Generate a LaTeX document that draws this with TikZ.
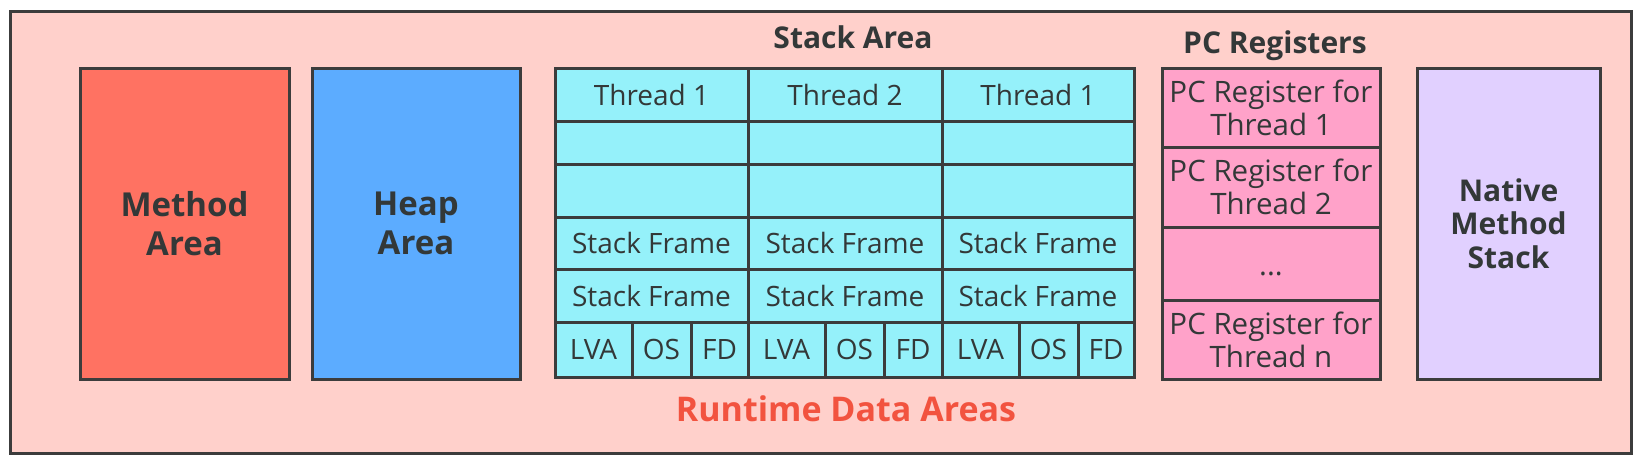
\documentclass[tikz,border=0pt]{standalone}
\usepackage{fontspec}
\setmainfont{Open Sans}
\definecolor{bgpink}{HTML}{FFD0CB}
\definecolor{edge}{HTML}{3C3C3C}
\definecolor{methodc}{HTML}{FF7262}
\definecolor{heapc}{HTML}{5CACFF}
\definecolor{stackc}{HTML}{95F1FA}
\definecolor{pcc}{HTML}{FFA2C9}
\definecolor{nativec}{HTML}{E1D0FF}
\definecolor{rtc}{HTML}{F2533F}
\definecolor{txt}{HTML}{333838}
\newcommand\cellnode[7]{\node[#2, minimum width={(#5)-(#3)}, minimum height={(#6)-(#4)}, anchor=center] (#1) at ({((#3)+(#5))/2},{((#4)+(#6))/2}) {#7};}
\begin{document}
\begin{tikzpicture}[x=1pt,y=-1pt,
  box/.style={draw=edge, line width=3pt, inner sep=0pt, outer sep=0pt, text=txt, align=center},
  bigfont/.style={font=\fontsize{33}{39}\selectfont\bfseries},
  midfont/.style={font=\fontsize{30}{33.5}\selectfont\bfseries},
  cellfont/.style={font=\fontsize{28}{33}\selectfont},
  stackcell/.style={box, fill=stackc, cellfont},
  pccell/.style={box, fill=pcc, font=\fontsize{29.5}{33}\selectfont},
  lbl/.style={text=txt, midfont, inner sep=0pt}]
\useasboundingbox (0,0) rectangle (1641,458);
\cellnode{outer}{box, fill=bgpink}{10}{11}{1631}{453}{}
\cellnode{method}{box, fill=methodc, bigfont}{80}{68}{289}{379}{Method\\Area}
\cellnode{heap}{box, fill=heapc, bigfont}{312}{68}{520}{379}{Heap\\Area}
\foreach \i/\a/\b/\t in {1/555/748/Thread 1, 2/748/942/Thread 2, 3/942/1134/Thread 1}{
  \cellnode{t\i r1}{stackcell}{\a}{68}{\b}{121}{\t}
  \cellnode{t\i r2}{stackcell}{\a}{121}{\b}{164}{}
  \cellnode{t\i r3}{stackcell}{\a}{164}{\b}{217}{}
  \cellnode{t\i r4}{stackcell}{\a}{217}{\b}{269}{Stack Frame}
  \cellnode{t\i r5}{stackcell}{\a}{269}{\b}{322}{Stack Frame}
  \cellnode{t\i lva}{stackcell}{\a}{322}{\a+77}{377}{LVA}
  \cellnode{t\i os}{stackcell}{\a+77}{322}{\a+136}{377}{OS}
  \cellnode{t\i fd}{stackcell}{\a+136}{322}{\b}{377}{FD}
}
\cellnode{pc1}{pccell}{1162}{68}{1380}{147}{PC Register for\\Thread 1}
\cellnode{pc2}{pccell}{1162}{147}{1380}{227}{PC Register for\\Thread 2}
\cellnode{pc3}{pccell}{1162}{227}{1380}{300}{\raisebox{-12pt}[0pt][0pt]{...}}
\cellnode{pcn}{pccell}{1162}{300}{1380}{379}{PC Register for\\Thread n}
\cellnode{native}{box, fill=nativec, midfont}{1417}{68}{1600}{379}{Native\\Method\\Stack}
\node[lbl] (stacklbl) at (853,37) {Stack Area};
\node[lbl] (pclbl) at (1275,46) {PC Registers};
\node[lbl, text=rtc, font=\fontsize{34}{40}\selectfont\bfseries] (rtlbl) at (846,409) {Runtime Data Areas};
\end{tikzpicture}
\end{document}
